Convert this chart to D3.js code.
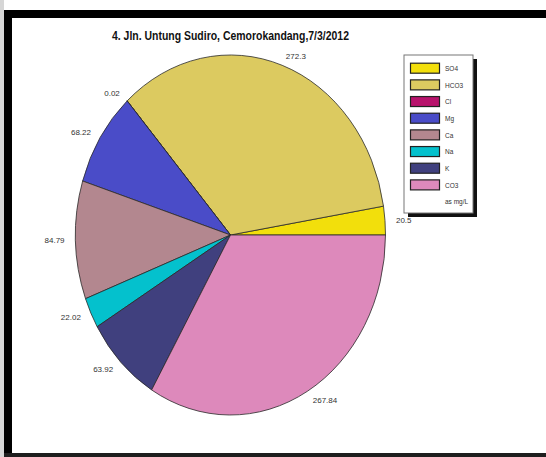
<!DOCTYPE html>
<html>
<head>
<meta charset="utf-8">
<script src="https://cdn.jsdelivr.net/npm/d3@7"></script>
<style>
  body { margin: 0; background: #ffffff; }
  svg { display: block; }
</style>
</head>
<body>
<script>
// ion values, as mg/L
var ions = ["SO4", "HCO3", "Cl", "Mg", "Ca", "Na", "K", "CO3"];
var values = [20.5, 272.3, 0.02, 68.22, 84.79, 22.02, 63.92, 267.84];
var labels = ["20.5", "272.3", "0.02", "68.22", "84.79", "22.02", "63.92", "267.84"];
var colors = ["#f2df0c", "#dcca60", "#b8126c", "#4a4cc8", "#b3878f", "#04c1cd", "#40407e", "#dd89bb"];

var width = 546;
var height = 457;
var cx = 230.5;
var cy = 235;
var rx = 155;
var ry = 180;

var svg = d3.select('body')
    .append('svg')
    .attr('width', width)
    .attr('height', height);

// background and frame
svg.append('rect')
    .attr('width', width)
    .attr('height', height)
    .attr('fill', '#ffffff');

svg.append('rect')
    .attr('x', 0).attr('y', 0)
    .attr('width', 4).attr('height', height)
    .attr('fill', '#d6d6d6');

svg.append('rect')
    .attr('x', 4).attr('y', 10)
    .attr('width', width - 4).attr('height', 8)
    .attr('fill', '#000');

svg.append('rect')
    .attr('x', 4).attr('y', 10)
    .attr('width', 8).attr('height', height - 10)
    .attr('fill', '#000');

svg.append('rect')
    .attr('x', 4).attr('y', 453)
    .attr('width', width - 4).attr('height', 4)
    .attr('fill', '#1e1e1e');

// title (narrow bold face is squeezed to the original width)
svg.append('text')
    .attr('x', cx)
    .attr('y', 40)
    .attr('text-anchor', 'middle')
    .attr('font-family', '"Liberation Sans Narrow", "Arial Narrow", "Liberation Sans", sans-serif')
    .attr('font-weight', 'bold')
    .attr('font-size', 12.5)
    .attr('textLength', 237)
    .attr('lengthAdjust', 'spacingAndGlyphs')
    .attr('fill', '#111')
    .text('4. Jln. Untung Sudiro, Cemorokandang,7/3/2012');

// pie, starting at 3 o'clock and running counter-clockwise
var pie = d3.pie()
    .sort(null)
    .startAngle(Math.PI / 2)
    .endAngle(Math.PI / 2 - 2 * Math.PI);

var slices = pie(values);

var arc = d3.arc()
    .innerRadius(0)
    .outerRadius(rx);

var pieG = svg.append('g')
    .attr('transform', 'translate(' + cx + ',' + cy + ') scale(1,' + (ry / rx) + ')');

pieG.selectAll('path')
    .data(slices)
    .enter()
    .append('path')
    .attr('d', arc)
    .attr('fill', function (d, i) { return colors[i]; })
    .attr('stroke', '#2a2a2a')
    .attr('stroke-width', 0.8)
    .attr('vector-effect', 'non-scaling-stroke');

// value labels around the pie
var lx = rx + 11;
var ly = ry + 10;

svg.selectAll('text.val')
    .data(slices)
    .enter()
    .append('text')
    .attr('class', 'val')
    .attr('x', function (d) {
        var a = (d.startAngle + d.endAngle) / 2;
        return cx + lx * Math.sin(a);
    })
    .attr('y', function (d) {
        var a = (d.startAngle + d.endAngle) / 2;
        return cy - ly * Math.cos(a);
    })
    .attr('text-anchor', function (d) {
        var a = (d.startAngle + d.endAngle) / 2;
        return Math.sin(a) >= 0 ? 'start' : 'end';
    })
    .attr('dy', '0.35em')
    .attr('font-family', 'Arial, "Liberation Sans", sans-serif')
    .attr('font-size', 8)
    .attr('fill', '#333')
    .text(function (d, i) { return labels[i]; });

// legend
var legX = 404;
var legY = 55;
var legW = 69;
var legH = 158;

svg.append('rect')
    .attr('x', legX + 4)
    .attr('y', legY + 4)
    .attr('width', legW)
    .attr('height', legH)
    .attr('fill', '#111');

svg.append('rect')
    .attr('x', legX)
    .attr('y', legY)
    .attr('width', legW)
    .attr('height', legH)
    .attr('fill', '#fff')
    .attr('stroke', '#777')
    .attr('stroke-width', 1);

var rowY = d3.scaleBand()
    .domain(ions)
    .range([62.7, 62.7 + 16.67 * ions.length]);

var legend = svg.selectAll('g.leg')
    .data(ions)
    .enter()
    .append('g')
    .attr('class', 'leg')
    .attr('transform', function (d) { return 'translate(0,' + rowY(d) + ')'; });

legend.append('rect')
    .attr('x', 410.5)
    .attr('y', 0.5)
    .attr('width', 29)
    .attr('height', 10)
    .attr('fill', function (d, i) { return colors[i]; })
    .attr('stroke', '#222')
    .attr('stroke-width', 1.2);

legend.append('text')
    .attr('x', 445)
    .attr('y', 6)
    .attr('dy', '0.35em')
    .attr('font-family', 'Arial, "Liberation Sans", sans-serif')
    .attr('font-size', 6.5)
    .attr('fill', '#333')
    .text(function (d) { return d; });

svg.append('text')
    .attr('x', 445)
    .attr('y', 202)
    .attr('dy', '0.35em')
    .attr('font-family', 'Arial, "Liberation Sans", sans-serif')
    .attr('font-size', 6.5)
    .attr('fill', '#333')
    .text('as mg/L');
</script>
</body>
</html>
